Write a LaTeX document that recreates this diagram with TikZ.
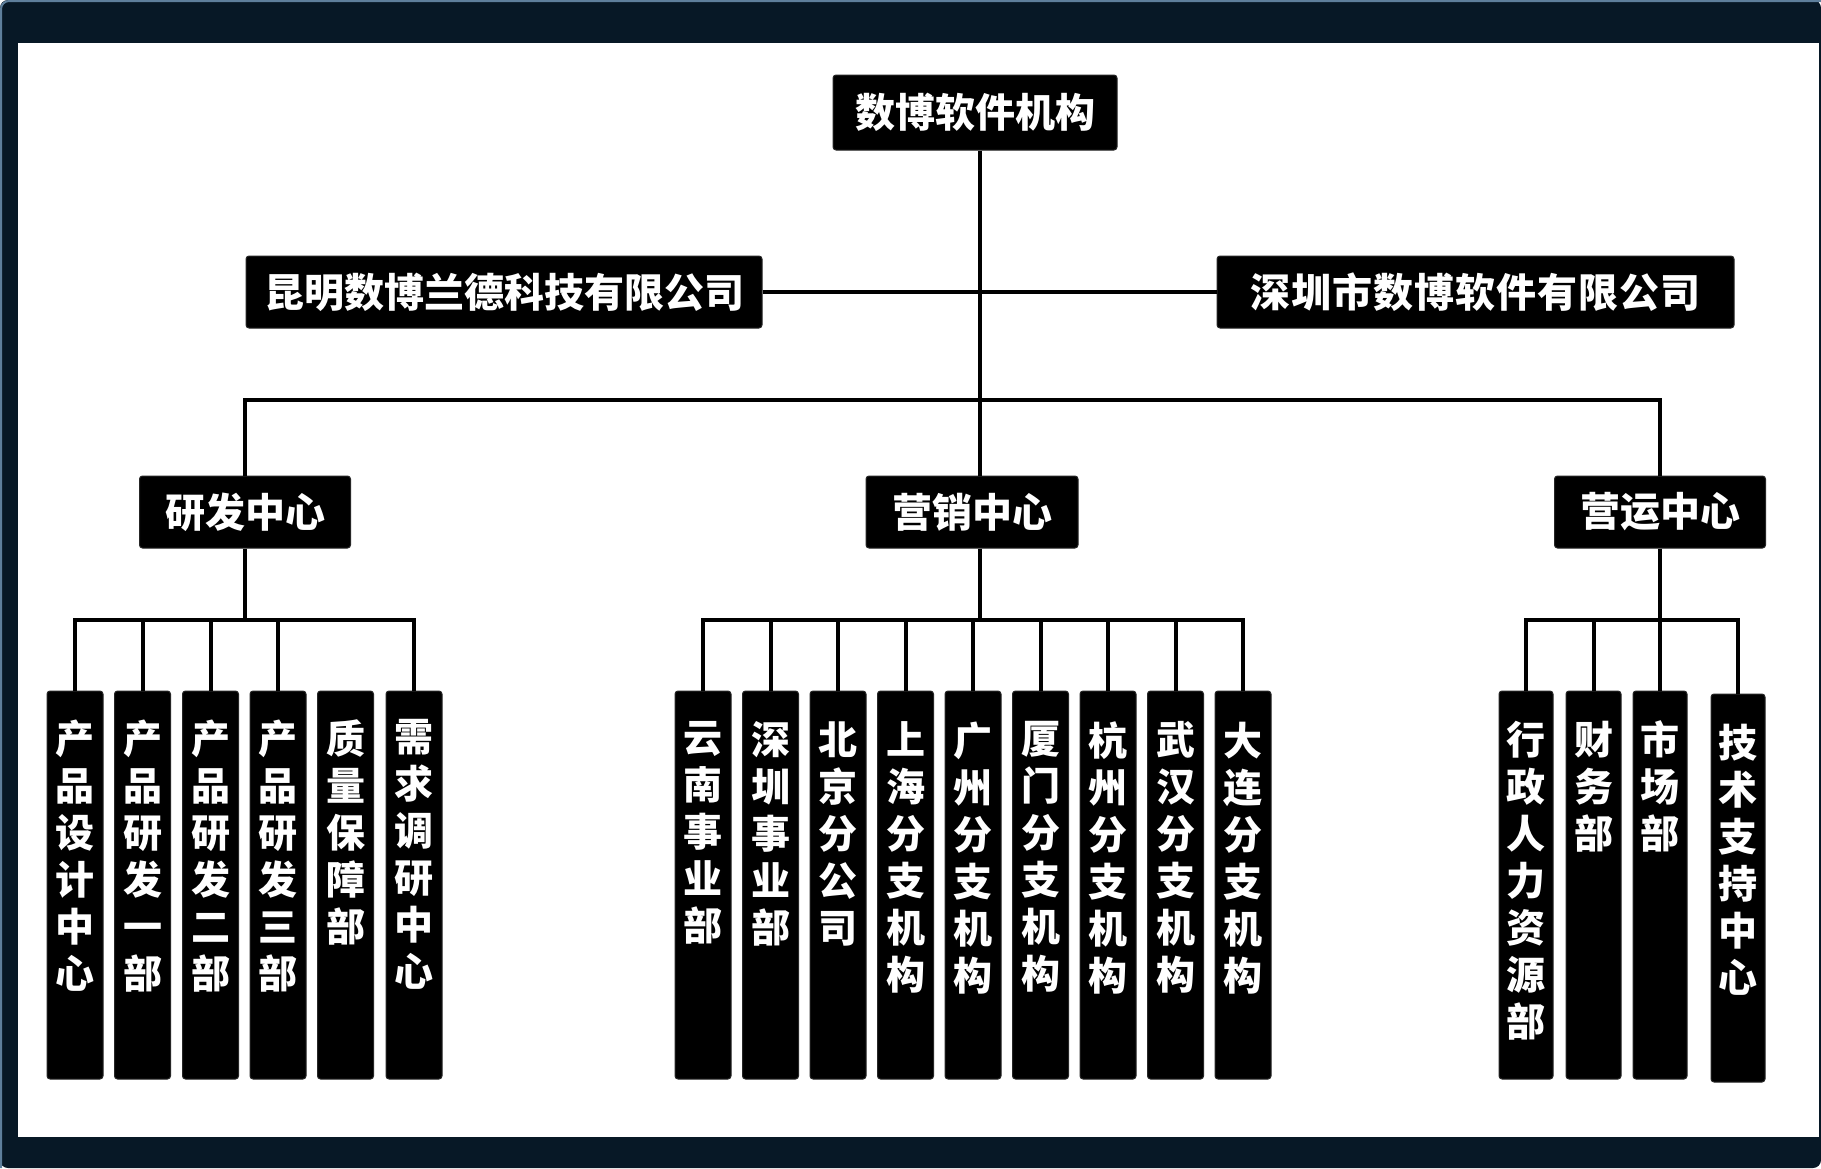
\documentclass[tikz,border=0pt]{standalone}
\usepackage{fontspec}
\setmainfont{Noto Sans CJK SC}
\definecolor{navy}{HTML}{071826}
\definecolor{rim}{HTML}{5E7F9C}
\begin{document}
\begin{tikzpicture}[x=1pt,y=-1pt,
  box/.style={fill=black, draw=black!85, line width=1pt, rounded corners=3pt, inner sep=0pt,
              text=white, font=\fontsize{40}{48}\selectfont\bfseries},
  leaf/.style={box, minimum width=56pt, minimum height=388pt},
  vtext/.style={text=white, align=center, inner sep=0pt, anchor=north,
                font=\fontsize{39}{47}\selectfont\bfseries},
  conn/.style={line width=4pt, black}]
\useasboundingbox (0,0) rectangle (1821,1168);
\fill[navy, rounded corners=8pt] (0,0) rectangle (1821,1168);
\draw[rim, line width=2pt, rounded corners=8pt] (1,1168) |- (1821,1);
\fill[white] (18,43) rectangle (1819,1137);

% top and companies
\node[box, minimum width=284pt, minimum height=75pt] (top) at (975,112.5) {数博软件机构};
\node[box, minimum width=516pt, minimum height=72pt] (km) at (504,292) {昆明数博兰德科技有限公司};
\node[box, minimum width=517pt, minimum height=72pt] (sz) at (1475.5,292)
  {深\kern1pt 圳\kern1pt 市\kern1pt 数\kern1pt 博\kern1pt 软\kern1pt 件\kern1pt 有\kern1pt 限\kern1pt 公\kern1pt 司};

% centres
\node[box, minimum width=211pt, minimum height=72pt] (yf) at (245,512) {研发中心};
\node[box, minimum width=212pt, minimum height=72pt] (yx) at (972,512) {营销中心};
\node[box, minimum width=211pt, minimum height=72pt] (yy) at (1660,512) {营运中心};

% R&D leaves
\node[leaf] (l1) at (75,885) {};
\node[vtext] (l1t) at ([yshift=-29pt]l1.north) {产\\品\\设\\计\\中\\心};
\node[leaf] (l2) at (142.5,885) {};
\node[vtext] (l2t) at ([yshift=-29pt]l2.north) {产\\品\\研\\发\\一\\部};
\node[leaf] (l3) at (210.5,885) {};
\node[vtext] (l3t) at ([yshift=-29pt]l3.north) {产\\品\\研\\发\\二\\部};
\node[leaf] (l4) at (278,885) {};
\node[vtext] (l4t) at ([yshift=-29pt]l4.north) {产\\品\\研\\发\\三\\部};
\node[leaf] (l5) at (345.5,885) {};
\node[vtext] (l5t) at ([yshift=-29pt]l5.north) {质\\量\\保\\障\\部};
\node[leaf] (l6) at (414,885) {};
\node[vtext] (l6t) at ([yshift=-29pt]l6.north) {需\\求\\调\\研\\中\\心};

% marketing leaves
\node[leaf] (m1) at (703,885) {};
\node[vtext] (m1t) at ([yshift=-31pt]m1.north) {云\\南\\事\\业\\部};
\node[leaf] (m2) at (770.5,885) {};
\node[vtext] (m2t) at ([yshift=-31pt]m2.north) {深\\圳\\事\\业\\部};
\node[leaf] (m3) at (838,885) {};
\node[vtext] (m3t) at ([yshift=-31pt]m3.north) {北\\京\\分\\公\\司};
\node[leaf] (m4) at (905.5,885) {};
\node[vtext] (m4t) at ([yshift=-31pt]m4.north) {上\\海\\分\\支\\机\\构};
\node[leaf] (m5) at (973,885) {};
\node[vtext] (m5t) at ([yshift=-31pt]m5.north) {广\\州\\分\\支\\机\\构};
\node[leaf] (m6) at (1040.5,885) {};
\node[vtext] (m6t) at ([yshift=-31pt]m6.north) {厦\\门\\分\\支\\机\\构};
\node[leaf] (m7) at (1108,885) {};
\node[vtext] (m7t) at ([yshift=-31pt]m7.north) {杭\\州\\分\\支\\机\\构};
\node[leaf] (m8) at (1175.5,885) {};
\node[vtext] (m8t) at ([yshift=-31pt]m8.north) {武\\汉\\分\\支\\机\\构};
\node[leaf] (m9) at (1243,885) {};
\node[vtext] (m9t) at ([yshift=-31pt]m9.north) {大\\连\\分\\支\\机\\构};

% operations leaves
\node[leaf, minimum width=54pt] (r1) at (1526,885) {};
\node[vtext] (r1t) at ([yshift=-30pt]r1.north) {行\\政\\人\\力\\资\\源\\部};
\node[leaf, minimum width=55pt] (r2) at (1593.5,885) {};
\node[vtext] (r2t) at ([yshift=-30pt]r2.north) {财\\务\\部};
\node[leaf, minimum width=54pt] (r3) at (1660,885) {};
\node[vtext] (r3t) at ([yshift=-30pt]r3.north) {市\\场\\部};
\node[leaf, minimum width=54pt] (r4) at (1738,888) {};
\node[vtext] (r4t) at ([yshift=-30pt]r4.north) {技\\术\\支\\持\\中\\心};

% connectors
\draw[conn] ([xshift=5pt]top.south) -- ([xshift=8pt]yx.north);
\draw[conn] (km.east) -- (sz.west);
\coordinate (bar) at (980,400);
\draw[conn] (yf.north) |- (bar) -| (yy.north);

\coordinate (yfbar) at (245,620);
\draw[conn] (yf.south) -- (yfbar);
\foreach \n in {l1,l2,l3,l4,l6} \draw[conn] (\n.north) |- (yfbar);

\coordinate (yxbar) at (980,620);
\draw[conn] ([xshift=8pt]yx.south) -- (yxbar);
\foreach \n in {m1,m2,m3,m4,m5,m6,m7,m8,m9} \draw[conn] (\n.north) |- (yxbar);

\coordinate (yybar) at (1660,620);
\draw[conn] (yy.south) -- (yybar);
\foreach \n in {r1,r2,r3,r4} \draw[conn] (\n.north) |- (yybar);
\end{tikzpicture}
\end{document}
